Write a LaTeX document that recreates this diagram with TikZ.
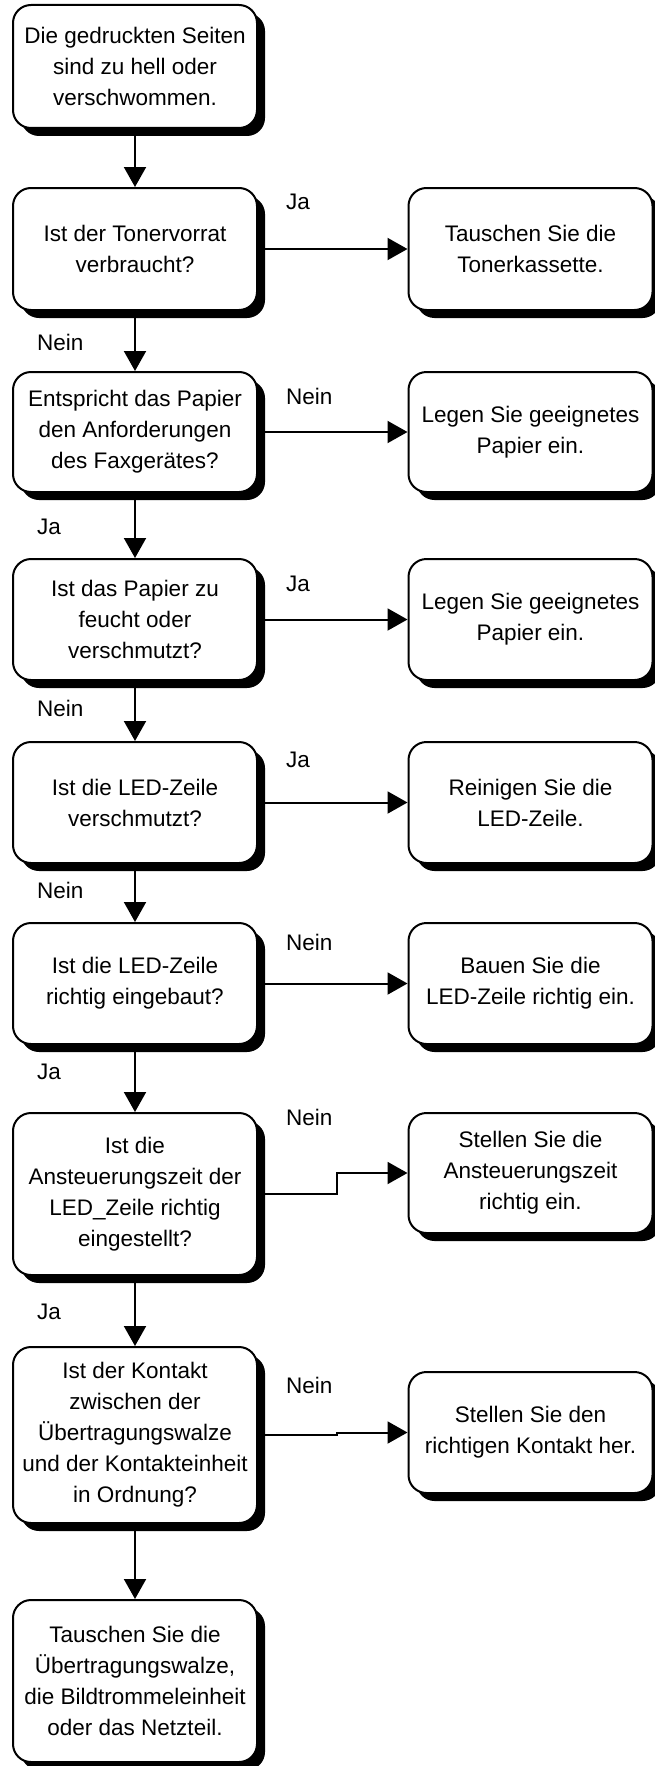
\documentclass[tikz,border=0pt]{standalone}
\usepackage{fontspec}
\setmainfont{Liberation Sans}
\usetikzlibrary{arrows.meta,positioning,shadows,calc}

\begin{document}
\begin{tikzpicture}[
   x=1pt, y=-1pt,
   font=\fontsize{22.5}{31}\selectfont,
   fbox/.style={draw, line width=2pt, rounded corners=18pt, fill=white,
                drop shadow={shadow xshift=8pt, shadow yshift=-8pt, fill=black, opacity=1},
                minimum width=244pt, inner sep=0pt, align=center},
   arr/.style={-{Triangle[length=20pt,width=22pt]}, line width=2pt},
   lbl/.style={anchor=west, inner sep=0pt}]
  \useasboundingbox (0,0) rectangle (655,1766);
  % left column: questions
  \node[fbox, minimum height=123pt] (q1) at (135,66.5)  {Die gedruckten Seiten\\ sind zu hell oder\\ verschwommen.};
  \node[fbox, minimum height=122pt] (q2) at (135,249)   {Ist der Tonervorrat\\ verbraucht?};
  \node[fbox, minimum height=120pt] (q3) at (135,432)   {Entspricht das Papier\\ den Anforderungen\\ des Faxgerätes?};
  \node[fbox, minimum height=121pt] (q4) at (135,619.5) {Ist das Papier zu\\ feucht oder\\ verschmutzt?};
  \node[fbox, minimum height=121pt] (q5) at (135,802.5) {Ist die LED-Zeile\\ verschmutzt?};
  \node[fbox, minimum height=121pt] (q6) at (135,983.5) {Ist die LED-Zeile\\ richtig eingebaut?};
  \node[fbox, minimum height=162pt] (q7) at (135,1194)  {Ist die\\ Ansteuerungszeit der\\ LED\_Zeile richtig\\ eingestellt?};
  \node[fbox, minimum height=176pt] (q8) at (135,1435)  {Ist der Kontakt\\ zwischen der\\ Übertragungswalze\\ und der Kontakteinheit\\ in Ordnung?};
  \node[fbox, minimum height=162pt] (q9) at (135,1681)  {Tauschen Sie die\\ Übertragungswalze,\\ die Bildtrommeleinheit\\ oder das Netzteil.};
  % right column: actions
  \node[fbox, minimum height=122pt] (a1) at (530.5,249)   {Tauschen Sie die\\ Tonerkassette.};
  \node[fbox, minimum height=120pt] (a2) at (530.5,432)   {Legen Sie geeignetes\\ Papier ein.};
  \node[fbox, minimum height=121pt] (a3) at (530.5,619.5) {Legen Sie geeignetes\\ Papier ein.};
  \node[fbox, minimum height=121pt] (a4) at (530.5,802.5) {Reinigen Sie die\\ LED-Zeile.};
  \node[fbox, minimum height=121pt] (a5) at (530.5,983.5) {Bauen Sie die\\ LED-Zeile richtig ein.};
  \node[fbox, minimum height=120pt] (a6) at (530.5,1173)  {Stellen Sie die\\ Ansteuerungszeit\\ richtig ein.};
  \node[fbox, minimum height=121pt] (a7) at (530.5,1432.5){Stellen Sie den\\ richtigen Kontakt her.};
  % down the left column
  \draw[arr] (q1) -- (q2);
  \draw[arr] (q2) -- (q3);
  \draw[arr] (q3) -- (q4);
  \draw[arr] (q4) -- (q5);
  \draw[arr] (q5) -- (q6);
  \draw[arr] (q6) -- (q7);
  \draw[arr] (q7) -- (q8);
  \draw[arr] (q8) -- (q9);
  % across to the actions
  \draw[arr] (q2) -- (a1);
  \draw[arr] (q3) -- (a2);
  \draw[arr] (q4) -- (a3);
  \draw[arr] (q5) -- (a4);
  \draw[arr] (q6) -- (a5);
  \coordinate (k7) at (337,1194);
  \coordinate (k8) at (337,1435);
  \draw[arr] (q7.east) -- (k7) |- (a6.west);
  \draw[arr] (q8.east) -- (k8) |- (a7.west);
  % answers
  \node[lbl] (r2) at (286,202)  {Ja};
  \node[lbl] (r3) at (286,396)  {Nein};
  \node[lbl] (r4) at (286,584)  {Ja};
  \node[lbl] (r5) at (286,760)  {Ja};
  \node[lbl] (r6) at (286,942)  {Nein};
  \node[lbl] (r7) at (286,1117) {Nein};
  \node[lbl] (r8) at (286,1385) {Nein};
  \node[lbl] (d2) at (37,342)   {Nein};
  \node[lbl] (d3) at (37,527)   {Ja};
  \node[lbl] (d4) at (37,708)   {Nein};
  \node[lbl] (d5) at (37,890)   {Nein};
  \node[lbl] (d6) at (37,1072)  {Ja};
  \node[lbl] (d7) at (37,1312)  {Ja};
\end{tikzpicture}
\end{document}
